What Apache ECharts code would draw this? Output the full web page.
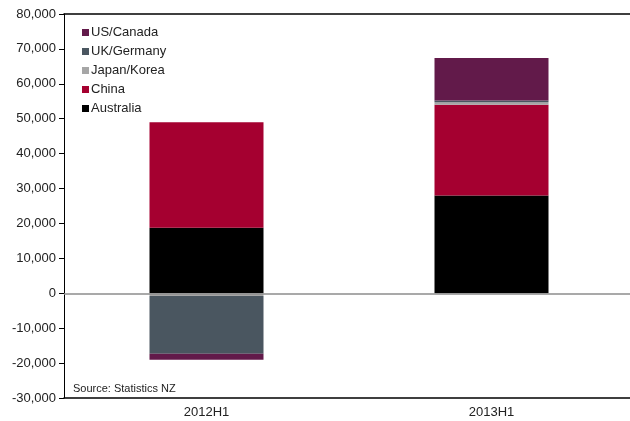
<!DOCTYPE html>
<html><head><meta charset="utf-8">
<script src="https://cdn.jsdelivr.net/npm/echarts@6/dist/echarts.min.js"></script>
<style>html,body{margin:0;padding:0;background:#fff}#c{width:630px;height:421px}</style>
</head><body><div id="c"></div>
<script>
const categories = ['2012H1', '2013H1'];
const australia = [18800, 28000];
const china = [30200, 26000];
const japanKorea = [-750, 700];
const ukGermany = [-16600, 500];
const usCanada = [-1700, 12200];
const legendOrder = ['US/Canada', 'UK/Germany', 'Japan/Korea', 'China', 'Australia'];
const sourceNote = 'Source: Statistics NZ';

const font = 'Liberation Sans, Arial, sans-serif';
const chart = echarts.init(document.getElementById('c'), null, {renderer: 'canvas'});
function s(name, data, color, extra) {
  return Object.assign({name, type: 'bar', stack: 'total', data, barWidth: '40%',
    itemStyle: {color}, emphasis: {disabled: true}, animation: false}, extra || {});
}
chart.setOption({
  animation: false,
  textStyle: {fontFamily: font},
  grid: {left: 64, width: 570, top: 14, bottom: 23, containLabel: false, outerBoundsMode: 'none'},
  legend: {
    data: legendOrder, orient: 'vertical', left: 77, top: 21,
    itemWidth: 7, itemHeight: 7, itemGap: 6, icon: 'rect',
    textStyle: {fontFamily: font, fontSize: 13, color: '#222', padding: [0, 0, 0, -3]}
  },
  xAxis: [{
    type: 'category', data: categories,
    axisLine: {onZero: false, lineStyle: {color: '#000', width: 1.5}},
    axisTick: {show: false},
    axisLabel: {color: '#222', fontSize: 13, fontFamily: font, margin: 8}
  }, {
    type: 'category', data: categories, position: 'top',
    axisLine: {show: true, onZero: false, lineStyle: {color: '#000', width: 1.5}},
    axisTick: {show: false}, axisLabel: {show: false}
  }],
  yAxis: {
    type: 'value', min: -30000, max: 80000, interval: 10000,
    axisLine: {show: true, lineStyle: {color: '#000', width: 1}},
    axisTick: {show: true, length: 5, lineStyle: {color: '#000'}},
    splitLine: {show: false},
    axisLabel: {color: '#222', fontSize: 13, fontFamily: font, margin: 8}
  },
  graphic: [{type: 'text', left: 73, top: 383, style: {text: sourceNote, fontSize: 11, fontFamily: font, fill: '#222'}}],
  series: [
    s('Australia', australia, '#000000', {
      markLine: {silent: true, symbol: 'none', label: {show: false},
        lineStyle: {color: '#8c8c8c', width: 1.5, type: 'solid'}, data: [{yAxis: 0}], animation: false}
    }),
    s('China', china, '#A50030'),
    s('Japan/Korea', japanKorea, '#A6A6A6'),
    s('UK/Germany', ukGermany, '#4A5660'),
    s('US/Canada', usCanada, '#621A4A')
  ]
});
</script></body></html>
